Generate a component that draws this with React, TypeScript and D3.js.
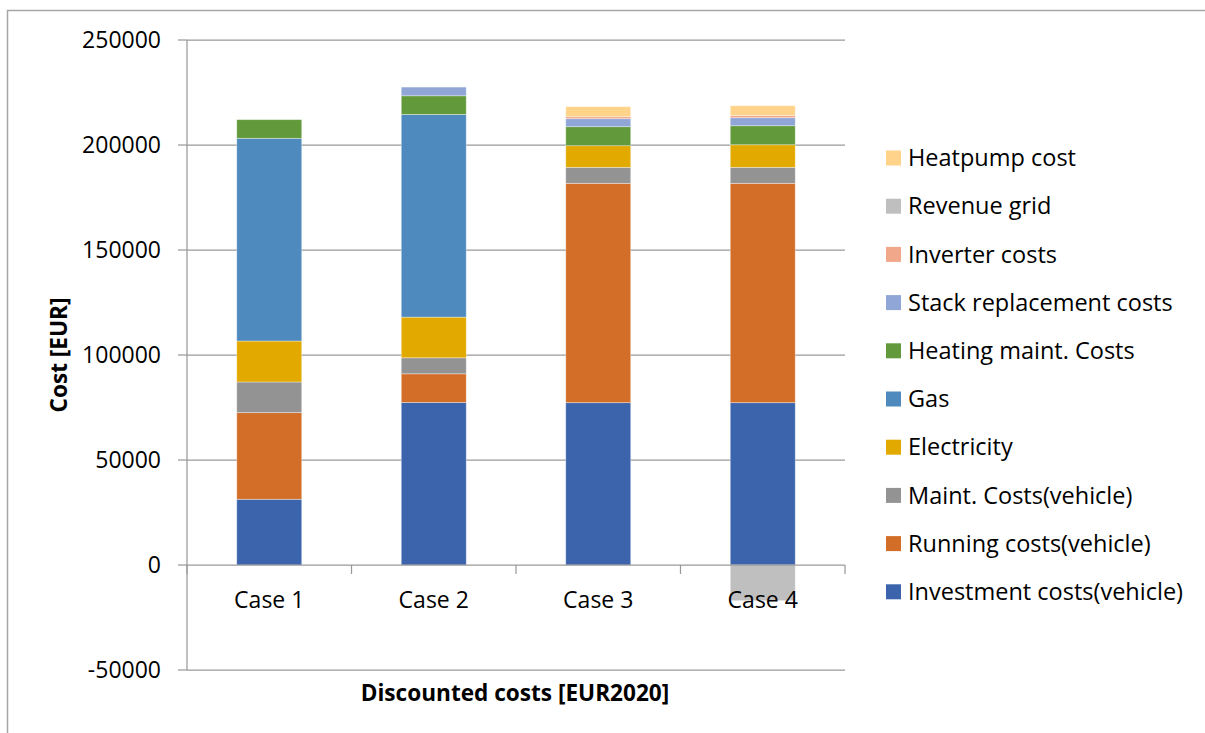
import React from "react";
import * as d3 from "d3";

const categories = ["Case 1", "Case 2", "Case 3", "Case 4"];

const seriesNames = [
  "Investment costs(vehicle)",
  "Running costs(vehicle)",
  "Maint. Costs(vehicle)",
  "Electricity",
  "Gas",
  "Heating maint. Costs",
  "Stack replacement costs",
  "Inverter costs",
  "Revenue grid",
  "Heatpump cost",
];

const investment = [31300, 77400, 77300, 77300];
const running = [41250, 13650, 104450, 104450];
const maintVehicle = [14600, 7620, 7620, 7620];
const electricity = [19520, 19370, 10300, 10750];
const gas = [96520, 96520, 0, 0];
const heatingMaint = [8880, 8880, 9050, 9060];
const stackReplacement = [0, 4140, 3810, 3810];
const inverter = [0, 0, 950, 1100];
const revenueGrid = [0, 0, 0, -17000];
const heatpump = [0, 0, 4760, 4600];

const seriesValues = [
  investment,
  running,
  maintVehicle,
  electricity,
  gas,
  heatingMaint,
  stackReplacement,
  inverter,
  revenueGrid,
  heatpump,
];

const colors = [
  "#3B64AD",
  "#D36E29",
  "#939393",
  "#E2AA00",
  "#4E8ABE",
  "#629A3B",
  "#8FA6D6",
  "#F1A78A",
  "#BFBFBF",
  "#FFD38A",
];

const yTicks = [-50000, 0, 50000, 100000, 150000, 200000, 250000];

const FONT = "'Open Sans', sans-serif";

export default function App() {
  const W = 1205;
  const H = 733;
  const x = d3.scaleBand<string>().domain(categories).range([187, 845]).padding(0);
  const y = d3.scaleLinear().domain([-50000, 250000]).range([670, 40]);
  const barW = x.bandwidth() * 0.395;

  const rows = categories.map((c, i) => {
    const r: any = { cat: c };
    seriesNames.forEach((s, j) => (r[s] = seriesValues[j][i]));
    return r;
  });
  const stacked = d3
    .stack<any>()
    .keys(seriesNames)
    .offset(d3.stackOffsetDiverging)(rows);

  const tickXs = [...categories.map((c) => x(c)!), 845];
  const legendNames = [...seriesNames].reverse();
  const legendColors = [...colors].reverse();

  return (
    <div style={{ position: "absolute", left: 0, top: 0 }}>
      <svg width={W} height={H} style={{ display: "block", background: "#fff" }}>
        <rect x={7.5} y={10.5} width={1400} height={900} fill="#fff" stroke="#A6A6A6" strokeWidth={1.5} />
        {/* gridlines */}
        {yTicks.filter((t) => t !== 0).map((t) => (
          <line key={t} x1={187} x2={845} y1={y(t)} y2={y(t)} stroke="#9A9A9A" strokeWidth={1.25} />
        ))}
        {/* bars */}
        {stacked.map((layer, li) => (
          <g key={layer.key} fill={colors[li]}>
            {layer.map((d, i) => {
              const y0 = y(d[0]);
              const y1 = y(d[1]);
              const h = Math.abs(y0 - y1);
              if (h < 0.01) return null;
              return (
                <rect
                  key={i}
                  x={x(categories[i])! + (x.bandwidth() - barW) / 2}
                  y={Math.min(y0, y1)}
                  width={barW}
                  height={h}
                  stroke="#ffffff"
                  strokeOpacity={0.45}
                  strokeWidth={0.8}
                />
              );
            })}
          </g>
        ))}
        {/* y axis */}
        <line x1={187} x2={187} y1={y(250000)} y2={y(-50000)} stroke="#9A9A9A" strokeWidth={1.25} />
        {yTicks.map((t) => (
          <g key={t}>
            <line x1={178} x2={187} y1={y(t)} y2={y(t)} stroke="#9A9A9A" strokeWidth={1.25} />
            <text x={161} y={y(t)} dy="0.35em" textAnchor="end" fontFamily={FONT} fontSize={23} fill="#000">
              {t}
            </text>
          </g>
        ))}
        {/* x axis */}
        <line x1={187} x2={845} y1={y(0)} y2={y(0)} stroke="#9A9A9A" strokeWidth={1.25} />
        {tickXs.map((tx, i) => (
          <line key={i} x1={tx} x2={tx} y1={y(0)} y2={y(0) + 9} stroke="#9A9A9A" strokeWidth={1.25} />
        ))}
        {categories.map((c) => (
          <text key={c} x={x(c)! + x.bandwidth() / 2} y={608} textAnchor="middle" fontFamily={FONT} fontSize={23} fill="#000">
            {c}
          </text>
        ))}
        <text x={515} y={701} textAnchor="middle" fontFamily={FONT} fontSize={22.6} fontWeight="bold" fill="#000">
          Discounted costs [EUR2020]
        </text>
        <text
          transform={`translate(67,355) rotate(-90)`}
          textAnchor="middle"
          fontFamily={FONT}
          fontSize={22.6}
          fontWeight="bold"
          fill="#000"
        >
          Cost [EUR]
        </text>
        {/* legend */}
        {legendNames.map((n, i) => {
          const cy = 158 + i * 48.2;
          return (
            <g key={n}>
              <rect x={886} y={cy - 7.5} width={15} height={15} fill={legendColors[i]} />
              <text x={908} y={cy} dy="0.35em" fontFamily={FONT} fontSize={23.5} fill="#000">
                {n}
              </text>
            </g>
          );
        })}
      </svg>
    </div>
  );
}
